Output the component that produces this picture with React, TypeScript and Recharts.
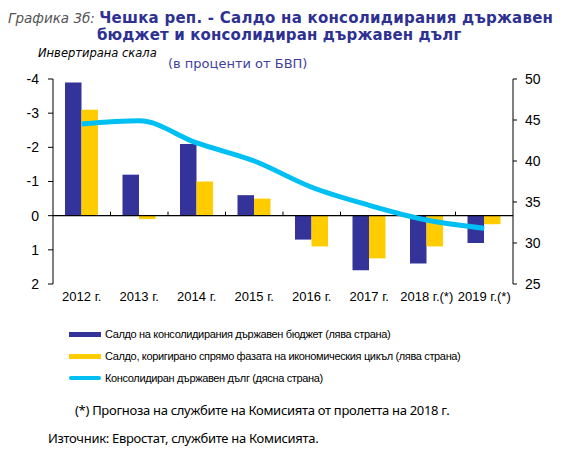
import React from "react";
import { ComposedChart, Bar, Line, XAxis, YAxis, ReferenceLine } from "recharts";

const years = ["2012 г.", "2013 г.", "2014 г.", "2015 г.", "2016 г.", "2017 г.", "2018 г.(*)", "2019 г.(*)"];
const budgetBalance = [-3.9, -1.2, -2.1, -0.6, 0.7, 1.6, 1.4, 0.8];
const cyclicalBalance = [-3.1, 0.1, -1.0, -0.5, 0.9, 1.25, 0.9, 0.25];
const grossDebt = [44.5, 44.9, 42.2, 40.0, 36.8, 34.6, 32.8, 31.8];
const leftTicks = [-4, -3, -2, -1, 0, 1, 2];
const rightTicks = [25, 30, 35, 40, 45, 50];

const data = years.map((year, i) => ({
  year,
  budget: budgetBalance[i],
  cyclical: cyclicalBalance[i],
  debt: grossDebt[i],
}));

const NAVY = "#333399";
const YELLOW = "#FFCC00";
const CYAN = "#00BFF3";

const gothic = "'DejaVu Sans', sans-serif";
const noto = "'Noto Sans', sans-serif";
const arial = "'Liberation Sans', Arial, sans-serif";

const legendItems = [
  { label: "Салдо  на консолидирания  държавен бюджет  (лява страна)", color: NAVY, kind: "bar" },
  { label: "Салдо,  коригирано  спрямо фазата на икономическия цикъл (лява страна)", color: YELLOW, kind: "bar" },
  { label: "Консолидиран  държавен дълг (дясна страна)", color: CYAN, kind: "line" },
];

// zero line with small category ticks pointing up
const ZeroLine = (props: any) => {
  const { x1, y1, x2 } = props;
  const step = (x2 - x1) / years.length;
  return (
    <g>
      <line x1={x1} y1={y1} x2={x2} y2={y1} stroke="#000" strokeWidth={1.2} />
      {years.slice(1).map((y, i) => (
        <line key={y} x1={x1 + step * (i + 1)} x2={x1 + step * (i + 1)} y1={y1} y2={y1 - 4} stroke="#000" strokeWidth={1} />
      ))}
    </g>
  );
};

export default function App() {
  return (
    <div style={{ position: "absolute", left: 0, top: 0, width: 572, height: 460, background: "#fff" }}>
      {/* title */}
      <div style={{ position: "absolute", left: 8, top: 8, fontFamily: gothic, lineHeight: "19px", whiteSpace: "nowrap" }}>
        <span style={{ color: "#555", fontStyle: "italic", fontSize: 13.5 }}>Графика 3б: </span>
        <span style={{ color: "#2E3192", fontWeight: "bold", fontSize: 15, letterSpacing: 0.25 }}>Чешка реп. -  Салдо на консолидирания държавен</span>
      </div>
      <div style={{ position: "absolute", left: 97, top: 26, fontFamily: gothic, fontSize: 15, letterSpacing: 0.15, lineHeight: "19px", color: "#2E3192", fontWeight: "bold", whiteSpace: "nowrap" }}>
        бюджет и консолидиран държавен дълг
      </div>
      <div style={{ position: "absolute", left: 38, top: 46, fontFamily: gothic, fontSize: 11.5, fontStyle: "italic", color: "#000", whiteSpace: "nowrap" }}>
        Инвертирана скала
      </div>
      <div style={{ position: "absolute", left: 168, top: 56, fontFamily: gothic, fontSize: 13, color: "#3F3F9F", whiteSpace: "nowrap" }}>
        (в проценти  от БВП)
      </div>

      <div style={{ position: "absolute", left: 0, top: 0 }}>
        <ComposedChart
          width={572}
          height={314}
          data={data}
          margin={{ top: 79, right: 0, bottom: 0, left: 0 }}
          barGap={0}
          barSize={16.5}
        >
          <XAxis
            dataKey="year"
            axisLine={false}
            tickLine={false}
            height={30}
            interval={0}
            tick={{ fontFamily: arial, fontSize: 13, fill: "#000" }}
          />
          <YAxis
            yAxisId="left"
            orientation="left"
            reversed
            domain={[-4, 2]}
            ticks={leftTicks}
            width={53}
            tickSize={5}
            tickMargin={9}
            axisLine={{ stroke: "#000" }}
            tickLine={{ stroke: "#000" }}
            tick={{ fontFamily: arial, fontSize: 14, fill: "#000" }}
          />
          <YAxis
            yAxisId="right"
            orientation="right"
            domain={[25, 50]}
            ticks={rightTicks}
            width={59}
            tickSize={4}
            tickMargin={8}
            axisLine={{ stroke: "#000" }}
            tickLine={{ stroke: "#000" }}
            tick={{ fontFamily: arial, fontSize: 14, fill: "#000" }}
          />
          <Bar yAxisId="left" dataKey="budget" fill={NAVY} isAnimationActive={false} />
          <Bar yAxisId="left" dataKey="cyclical" fill={YELLOW} isAnimationActive={false} />
          <ReferenceLine yAxisId="left" y={0} stroke="#000" shape={ZeroLine} />
          <Line
            yAxisId="right"
            type="monotone"
            dataKey="debt"
            stroke={CYAN}
            strokeWidth={5}
            dot={false}
            activeDot={false}
            isAnimationActive={false}
          />
        </ComposedChart>
      </div>

      {/* legend */}
      {legendItems.map((item, i) => (
        <div
          key={item.label}
          style={{ position: "absolute", left: 69, top: 326 + i * 22, height: 16, display: "flex", alignItems: "center", whiteSpace: "nowrap" }}
        >
          <div
            style={{
              width: 32,
              height: item.kind === "bar" ? 5 : 4,
              borderRadius: item.kind === "line" ? 2 : 0,
              background: item.color,
              marginRight: 4,
            }}
          />
          <span style={{ fontFamily: arial, fontSize: 11, letterSpacing: -0.35, color: "#000" }}>{item.label}</span>
        </div>
      ))}

      <div style={{ position: "absolute", left: 75, top: 401, fontFamily: noto, fontSize: 13, letterSpacing: -0.3, color: "#000", whiteSpace: "nowrap" }}>
        (*) Прогноза на службите  на Комисията от пролетта на 2018  г.
      </div>
      <div style={{ position: "absolute", left: 48, top: 429, fontFamily: noto, fontSize: 13, letterSpacing: -0.3, color: "#000", whiteSpace: "nowrap" }}>
        Източник: Евростат, службите  на Комисията.
      </div>
    </div>
  );
}
